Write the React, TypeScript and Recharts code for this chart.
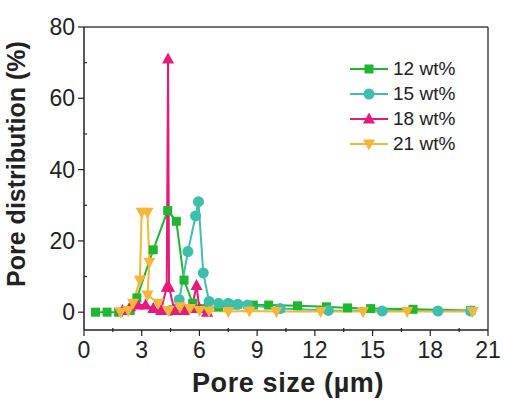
import {
  LineChart,
  Line,
  XAxis,
  YAxis,
  ReferenceLine,
} from "recharts";

// pore size (µm) / pore distribution (%)
const x12 = [0.6, 1.2, 1.8, 2.4, 2.75, 3.6, 4.35, 4.8, 5.2, 5.65, 6.2, 7.0, 7.8, 8.8, 9.6, 11.1, 12.6, 13.7, 14.9, 17.1, 20.1];
const y12 = [0, 0, 0, 0.5, 4, 17.5, 28.5, 25.5, 9, 2.5, 1, 1.5, 2, 2, 2, 1.8, 1.5, 1.2, 1, 0.8, 0.5];

const x15 = [4.5, 4.95, 5.4, 5.8, 5.95, 6.2, 6.5, 7.0, 7.5, 8.0, 8.5, 10.2, 12.7, 15.5, 18.4, 20.1];
const y15 = [0.5, 3.5, 17, 27, 31, 11, 3, 2.5, 2.5, 2.2, 2, 1, 0.5, 0.3, 0.3, 0.3];

const x18 = [2.0, 2.4, 2.8, 3.2, 3.6, 4.0, 4.3, 4.37, 4.42, 4.7, 5.2, 5.6, 5.85, 6.0, 6.4];
const y18 = [0.5, 1.5, 2, 2, 1, 0.5, 7, 71, 7, 0.5, 0.5, 1, 7.5, 1, 0];

const x21 = [1.9, 2.3, 2.55, 2.9, 3.0, 3.3, 3.4, 3.3, 3.85, 4.4, 5.0, 5.5, 6.0, 6.5, 7.5, 8.6, 10.0, 12.3, 14.5, 16.8, 20.2];
const y21 = [0, 0.5, 2.5, 9, 28, 28, 14, 4.8, 2.5, 0.5, 1.5, 1, 0.5, 0.3, 0.2, 0.3, 0.2, 0.2, 0.2, 0.2, 0.2];

const xTicks = [0, 1.5, 3, 4.5, 6, 7.5, 9, 10.5, 12, 13.5, 15, 16.5, 18, 19.5, 21];
const yTicks = [0, 10, 20, 30, 40, 50, 60, 70, 80];

const toPoints = (xs: number[], ys: number[]) =>
  xs.map((x, i) => ({ x, y: ys[i] }));

const series = [
  { name: "12 wt%", color: "#1db82f", shape: "square", data: toPoints(x12, y12) },
  { name: "15 wt%", color: "#3cbfab", shape: "circle", data: toPoints(x15, y15) },
  { name: "18 wt%", color: "#e8197c", shape: "up", data: toPoints(x18, y18) },
  { name: "21 wt%", color: "#f6b638", shape: "down", data: toPoints(x21, y21) },
];

const FONT = "'Liberation Sans', Arial, sans-serif";
const INK = "#222";

function Marker({ shape, cx, cy, color }: { shape: string; cx: number; cy: number; color: string }) {
  if (shape === "square")
    return <rect x={cx - 4.5} y={cy - 4.5} width={9} height={9} fill={color} />;
  if (shape === "circle") return <circle cx={cx} cy={cy} r={5.5} fill={color} />;
  if (shape === "up")
    return <polygon points={`${cx},${cy - 6.5} ${cx - 6},${cy + 4.5} ${cx + 6},${cy + 4.5}`} fill={color} />;
  return <polygon points={`${cx},${cy + 6.5} ${cx - 6},${cy - 4.5} ${cx + 6},${cy - 4.5}`} fill={color} />;
}

const makeDot = (shape: string, color: string) => (props: any) => {
  const { cx, cy, index } = props;
  if (cx == null || cy == null) return <g key={`${shape}-${index}`} />;
  return (
    <g key={`${shape}-${index}`}>
      <Marker shape={shape} cx={cx} cy={cy} color={color} />
    </g>
  );
};

function XTick(props: any) {
  const { x, y, payload } = props;
  const major = payload.value % 3 === 0;
  return (
    <g>
      <line x1={x} x2={x} y1={y - (major ? 0 : 2)} y2={y + (major ? 6 : 2)} stroke={INK} strokeWidth={1.2} />
      {major && (
        <text x={x} y={y + 28} textAnchor="middle" fontSize={23} fontFamily={FONT} fill={INK}>
          {payload.value}
        </text>
      )}
    </g>
  );
}

function YTick(props: any) {
  const { x, y, payload } = props;
  const major = payload.value % 20 === 0;
  return (
    <g>
      <line x1={x - (major ? 6 : 0)} x2={x + (major ? 0 : 3)} y1={y} y2={y} stroke={INK} strokeWidth={1.2} />
      {major && (
        <text x={x - 9} y={y + 8} textAnchor="end" fontSize={23} fontFamily={FONT} fill={INK}>
          {payload.value}
        </text>
      )}
    </g>
  );
}

function LegendBox() {
  return (
    <div style={{ position: "absolute", left: 348, top: 56, fontFamily: FONT }}>
      {series.map((s) => (
        <div key={s.name} style={{ display: "flex", alignItems: "center", height: 25 }}>
          <svg width={44} height={20}>
            <line x1={2} x2={40} y1={10} y2={10} stroke={s.color} strokeWidth={2} />
            <Marker shape={s.shape} cx={21} cy={10} color={s.color} />
          </svg>
          <span style={{ fontSize: 19, color: INK, marginLeft: 1 }}>{s.name}</span>
        </div>
      ))}
    </div>
  );
}

export default function App() {
  return (
    <div style={{ position: "absolute", left: 0, top: 0, width: 505, height: 410, background: "#fff" }}>
      <LineChart width={505} height={410} margin={{ top: 27, right: 17, bottom: 0, left: 0 }}>
        <XAxis
          dataKey="x"
          type="number"
          domain={[0, 21]}
          ticks={xTicks}
          interval={0}
          height={80}
          tickSize={0}
          tickMargin={0}
          tickLine={false}
          tick={<XTick />}
          stroke={INK}
          strokeWidth={1.5}
          allowDuplicatedCategory={false}
          label={() => (
            <text
              x={288}
              y={392}
              textAnchor="middle"
              fontSize={27}
              letterSpacing={0.6}
              fontWeight="bold"
              fontFamily={FONT}
              fill={INK}
            >
              Pore size (µm)
            </text>
          )}
        />
        <YAxis
          type="number"
          domain={[-5, 80]}
          ticks={yTicks}
          interval={0}
          width={84}
          tickSize={0}
          tickMargin={0}
          tickLine={false}
          tick={<YTick />}
          stroke={INK}
          strokeWidth={1.5}
          label={() => (
            <text
              x={25}
              y={164}
              transform="rotate(-90 25 164)"
              textAnchor="middle"
              fontSize={25}
              fontWeight="bold"
              fontFamily={FONT}
              fill={INK}
            >
              Pore distribution (%)
            </text>
          )}
        />
        <ReferenceLine y={80} stroke="#444" strokeWidth={1.5} />
        <ReferenceLine x={21} stroke="#444" strokeWidth={1.5} />
        {series.map((s) => (
          <Line
            key={s.name}
            data={s.data}
            dataKey="y"
            name={s.name}
            type="linear"
            stroke={s.color}
            strokeWidth={2}
            dot={makeDot(s.shape, s.color)}
            activeDot={false}
            isAnimationActive={false}
          />
        ))}
      </LineChart>
      <LegendBox />
    </div>
  );
}
